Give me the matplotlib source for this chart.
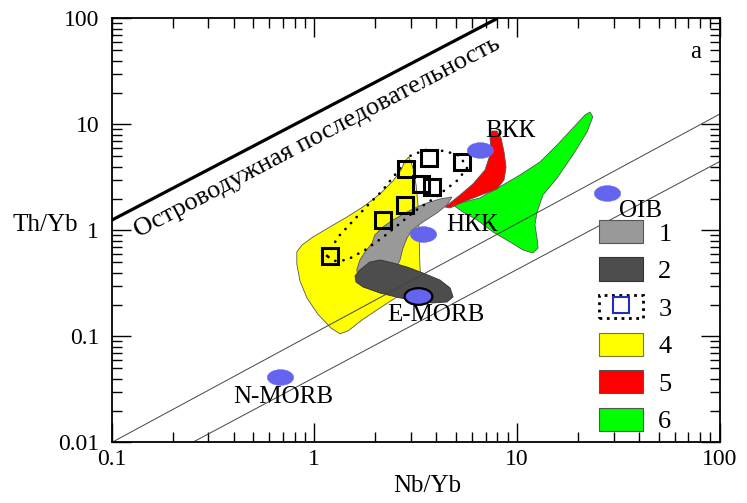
import numpy as np
import matplotlib
matplotlib.use("Agg")
import matplotlib.pyplot as plt
from matplotlib.path import Path
from matplotlib.transforms import Affine2D
from matplotlib.patches import Patch
from matplotlib.lines import Line2D
from matplotlib import ticker

plt.rcParams['font.family'] = ['Liberation Serif', 'DejaVu Serif']

# ---- compositional fields, outlines in (Nb/Yb, Th/Yb) ----
field1_nb = [4.78, 4.52, 4.03, 3.44, 3.035, 2.87, 2.74, 2.65, 2.50, 1.99, 1.64,
             1.62, 1.68, 1.78, 1.93, 1.99, 2.18, 2.445, 2.87, 3.21, 3.60, 4.17]
field1_th = [2.07, 1.74, 1.463, 1.203, 1.011, 0.850, 0.684, 0.527, 0.424, 0.372, 0.380,
             0.424, 0.527, 0.627, 0.762, 0.907, 1.079, 1.256, 1.494, 1.666, 1.817, 1.982]

field2_nb = [1.68, 1.88, 2.11, 2.445, 2.87, 3.44, 4.17, 4.68, 4.84, 4.52, 3.81,
             3.14, 2.65, 2.11, 1.74, 1.606, 1.588]
field2_th = [0.424, 0.504, 0.527, 0.494, 0.4525, 0.397, 0.341, 0.287, 0.236, 0.2115, 0.207,
             0.221, 0.231, 0.257, 0.293, 0.327, 0.372]

field3_nb = [1.155, 1.31, 1.552, 1.82, 2.16, 2.59, 2.97, 3.52, 4.42, 5.24, 5.67,
             5.12, 3.99, 3.14, 2.59, 2.16, 1.78, 1.45, 1.25, 1.155]
field3_th = [0.575, 0.868, 1.229, 1.70, 2.36, 3.64, 5.05, 5.75, 5.62, 5.05, 3.89,
             3.00, 2.07, 1.528, 1.127, 0.850, 0.655, 0.527, 0.516, 0.575]

field4_nb = [2.93, 3.07, 3.18, 3.25, 3.29, 3.32, 3.36, 2.65, 2.11, 1.72, 1.47, 1.34, 1.21,
             1.04, 0.92, 0.85, 0.82, 0.82, 0.87, 0.985, 1.195, 1.45, 1.74, 2.11, 2.445, 2.68, 2.80]
field4_th = [4.94, 3.89, 2.69, 1.74, 0.907, 0.473, 0.327, 0.246, 0.186, 0.143, 0.113, 0.106, 0.120,
             0.163, 0.231, 0.334, 0.483, 0.627, 0.730, 0.868, 1.08, 1.34, 1.67, 2.21, 2.93, 3.72, 4.53]

field5_nb = [4.42, 5.24, 6.07, 6.96, 7.45, 7.37, 7.54, 7.98, 8.35, 8.64, 8.84,
             8.64, 7.98, 6.65, 5.42, 4.68]
field5_th = [1.666, 2.16, 2.75, 3.72, 5.50, 7.46, 8.68, 8.68, 7.46, 5.50, 3.97,
             3.00, 2.46, 2.16, 1.857, 1.631]

field6_nb = [4.84, 6.58, 8.54, 10.36, 13.0, 15.8, 18.9, 21.7, 22.95, 23.7, 22.2, 18.9,
             15.8, 13.45, 12.57, 12.28, 12.57, 12.71, 12.0, 10.7, 9.25, 7.62, 6.36, 5.42]
field6_th = [1.74, 2.03, 2.69, 3.34, 4.43, 6.41, 9.27, 12.3, 13.1, 11.8, 8.50, 5.16,
             3.13, 2.16, 1.494, 1.127, 0.850, 0.684, 0.613, 0.655, 0.779, 0.968, 1.256, 1.494]

# ---- samples ----
sample_nb = [1.19, 2.18, 2.80, 2.84, 3.35, 3.80, 3.70, 5.34]
sample_th = [0.578, 1.256, 1.74, 3.78, 2.73, 2.56, 4.86, 4.46]

# ---- reference compositions ----
ref_names = ['N-MORB', 'E-MORB', 'НКК', 'ВКК', 'OIB']
ref_nb = [0.677, 3.26, 3.45, 6.58, 27.7]
ref_th = [0.0415, 0.241, 0.921, 5.75, 2.27]

# ---- reference lines ----
arc_nb = [0.1, 8.0]
arc_th = [1.25, 100.0]
array_hi_nb = [0.1, 100.0]
array_hi_th = [0.01, 12.5]
array_lo_nb = [0.25, 100.0]
array_lo_th = [0.01, 4.46]

legend_labels = ['1', '2', '3', '4', '5', '6']

fig = plt.figure(figsize=(7.47, 5.03), dpi=100)
ax = fig.add_axes([0.1495, 0.1203, 0.8137, 0.843])
ax.set_xscale('log')
ax.set_yscale('log')
ax.set_xlim(0.1, 100)
ax.set_ylim(0.01, 100)

edge = '#555555'
ax.fill(field4_nb, field4_th, facecolor='#ffff00', edgecolor=edge, lw=0.6, zorder=1)
ax.fill(field6_nb, field6_th, facecolor='#00ff00', edgecolor=edge, lw=0.6, zorder=1.1)
ax.fill(field5_nb, field5_th, facecolor='#ff0000', edgecolor=edge, lw=0.6, zorder=1.2)
ax.fill(field1_nb, field1_th, facecolor='#999999', edgecolor=edge, lw=0.6, zorder=1.3)
ax.fill(field2_nb, field2_th, facecolor='#4d4d4d', edgecolor='#333333', lw=0.6, zorder=1.4)

ax.plot(array_hi_nb, array_hi_th, color='#444444', lw=0.7, zorder=2)
ax.plot(array_lo_nb, array_lo_th, color='#444444', lw=0.7, zorder=2)
ax.plot(arc_nb, arc_th, color='black', lw=2.3, zorder=2, solid_capstyle='butt')

ax.plot(field3_nb, field3_th, color='black', lw=1.9, linestyle=(0, (0.1, 3.0)),
        dash_capstyle='round', zorder=3)
ax.plot(sample_nb, sample_th, 's', mfc='none', mec='black', ms=11, mew=2.2, zorder=4)

ell = Path.unit_circle().transformed(Affine2D().scale(1.0, 0.6))
blue = '#6464ee'
for name, nb, th in zip(ref_names, ref_nb, ref_th):
    if name == 'E-MORB':
        ax.plot([nb], [th], marker=ell, ms=20, mfc=blue, mec='black', mew=1.6,
                ls='none', zorder=5)
    else:
        ax.plot([nb], [th], marker=ell, ms=19, mfc=blue, mec=blue, mew=0.3,
                ls='none', zorder=5)

lab_kw = dict(fontsize=18, ha='center', va='center', zorder=6)
ax.text(0.70, 0.0269, 'N-MORB', **lab_kw)
ax.text(3.99, 0.1595, 'E-MORB', **lab_kw)
ax.text(6.0, 1.127, 'НКК', **lab_kw)
ax.text(9.25, 8.7, 'ВКК', **lab_kw)
ax.text(41.0, 1.528, 'OIB', **lab_kw)
ax.text(0.96, 0.921, 'a', transform=ax.transAxes, fontsize=18, ha='center', va='center')

# label along the island-arc line, rotated to follow it on screen
p0 = ax.transData.transform((arc_nb[0], arc_th[0]))
p1 = ax.transData.transform((arc_nb[1], arc_th[1]))
angle = np.degrees(np.arctan2(p1[1] - p0[1], p1[0] - p0[0]))
ax.text(1.03, 7.6, 'Островодужная последовательность', fontsize=19, rotation=angle,
        rotation_mode='anchor', ha='center', va='center', zorder=6)

# axes styling
for s in ax.spines.values():
    s.set_linewidth(1.3)
ax.tick_params(which='both', direction='in', top=True, right=True, width=1.0)
ax.tick_params(which='major', length=14, labelsize=17)
ax.tick_params(which='minor', length=7)
ax.tick_params(axis='x', pad=5)
ax.tick_params(axis='y', pad=9)
fmt = ticker.FuncFormatter(lambda v, _: f'{v:g}')
ax.xaxis.set_major_formatter(fmt)
ax.yaxis.set_major_formatter(fmt)
ax.xaxis.set_minor_formatter(ticker.NullFormatter())
ax.yaxis.set_minor_formatter(ticker.NullFormatter())

ax.set_xlabel('Nb/Yb', fontsize=18, va='center')
ax.xaxis.set_label_coords(0.52, -0.1026)
ax.set_ylabel('Th/Yb', fontsize=18, rotation=0, ha='right', va='center')
ax.yaxis.set_label_coords(-0.0554, 0.513)

handles = [
    Patch(facecolor='#999999', edgecolor=edge, lw=0.8),
    Patch(facecolor='#4d4d4d', edgecolor='#333333', lw=0.8),
    (Patch(facecolor='white', edgecolor='black', linestyle=':', lw=2.0),
     Line2D([], [], marker='s', ls='none', mfc='none', mec='#1f2fbf', ms=11, mew=1.5)),
    Patch(facecolor='#ffff00', edgecolor='#777733', lw=0.8),
    Patch(facecolor='#ff0000', edgecolor=edge, lw=0.8),
    Patch(facecolor='#00ff00', edgecolor=edge, lw=0.8),
]
ax.legend(handles, legend_labels, loc='upper left', bbox_to_anchor=(0.802, 0.525),
          frameon=False, borderpad=0, borderaxespad=0, handlelength=1.67,
          handleheight=0.98, handletextpad=0.57, labelspacing=0.45, fontsize=19)

fig.savefig('out.png', dpi=100)
